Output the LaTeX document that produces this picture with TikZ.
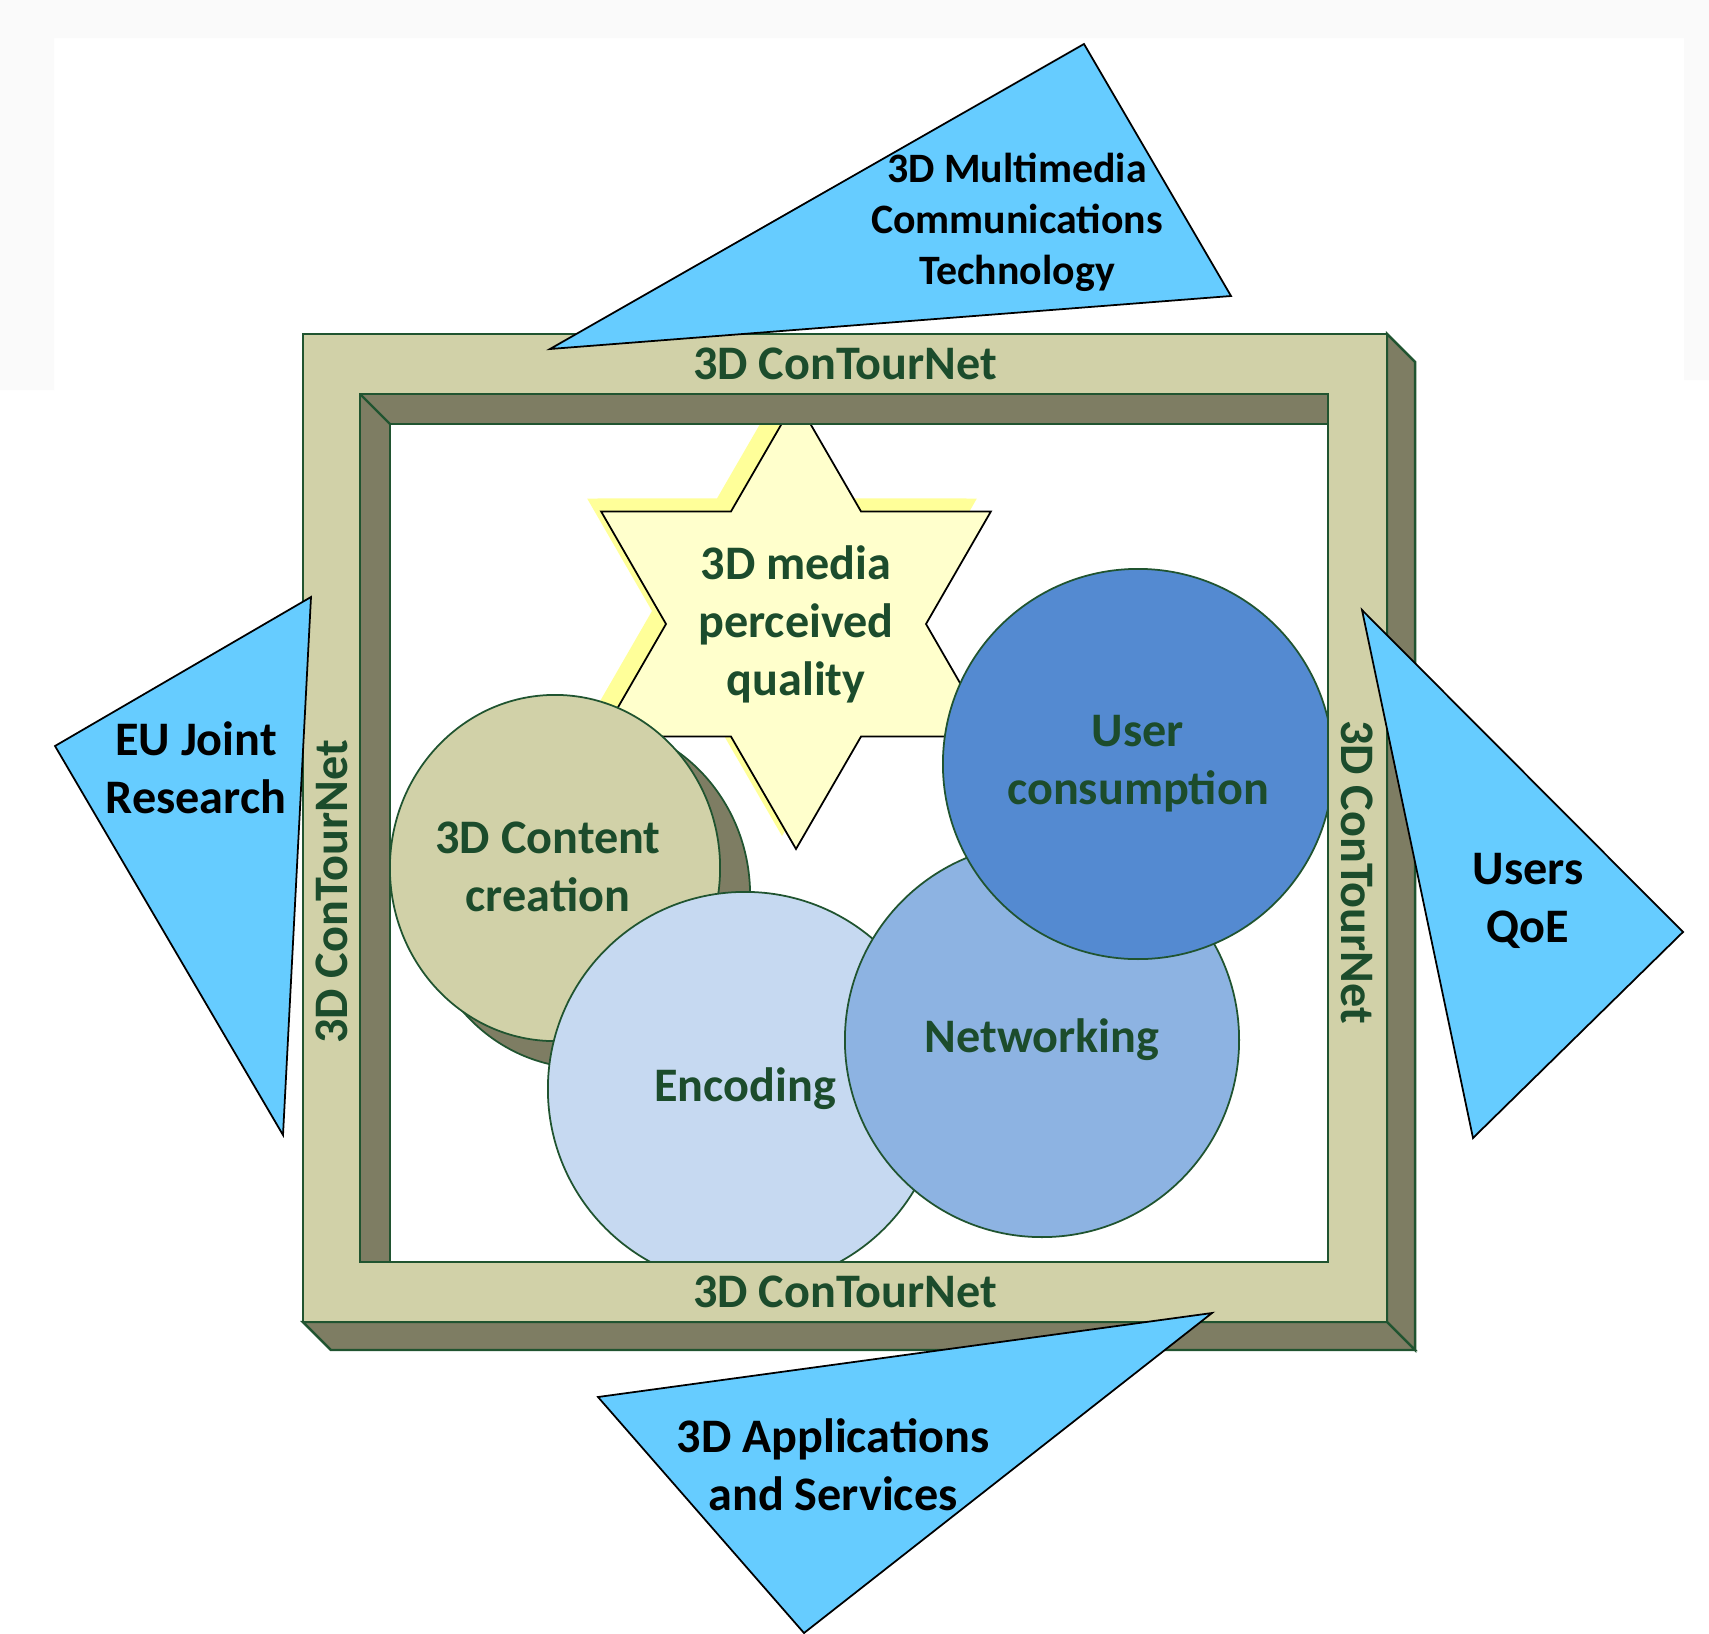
\documentclass[tikz,border=0pt]{standalone}
\usepackage{fontspec}
\setmainfont{Carlito}
\usepackage{tikz}
\usetikzlibrary{calc,positioning}
\usetikzlibrary{shapes}
\usepackage{xcolor}
\definecolor{beige}{RGB}{209,209,168}
\definecolor{darkside}{RGB}{126,125,99}
\definecolor{rim}{RGB}{32,84,48}
\definecolor{ink}{RGB}{28,76,44}
\definecolor{sky}{RGB}{102,204,255}
\definecolor{starfill}{RGB}{255,255,204}
\definecolor{starshade}{RGB}{255,255,153}
\definecolor{encblue}{RGB}{198,217,241}
\definecolor{netblue}{RGB}{141,179,226}
\definecolor{usrblue}{RGB}{84,138,209}

\begin{document}
\begin{tikzpicture}[x=0.01cm, y=-0.01cm,
    big/.style = {font=\fontsize{13.7}{16.5}\selectfont\bfseries, align=center},
    main/.style = {draw=rim, line width=0.5pt, inner sep=0pt, big, text=ink},
    frame/.style = {draw=rim, line width=0.7pt},
    tri/.style = {draw=black, line width=0.5pt, fill=sky}]
	\useasboundingbox (0,0) rectangle (1709,1633);
	\fill[white] (0,0) rectangle (1709,1633);
	\fill[black!2] (0,0) rectangle (1709,38) (0,38) rectangle (54,390) (1684,38) rectangle (1709,380);
	\coordinate (s) at (796,624);
	\fill[starshade, shift={($(s)+(-14,-13)$)}] (90:225) \foreach \a in {150,210,...,450} { -- (\a-30:130) -- (\a:225) } -- cycle;
	\draw[fill=starfill, draw=black, line width=0.5pt, shift={(s)}] (90:225) \foreach \a in {150,210,...,450} { -- (\a-30:130) -- (\a:225) } -- cycle;
	\node[big, text=ink] (media) at (s) {3D media\\perceived\\quality};
	\node[main, ellipse, fill=darkside, minimum width=3.3cm, minimum height=3.46cm] (cshade) at (585,895) {};
	\node[main, ellipse, fill=beige, minimum width=3.3cm, minimum height=3.46cm] (content) at (555,868) {};
	\node[big, text=ink] (ctext) at (548,867) {3D Content\\creation};
	\node[main, circle, fill=encblue, minimum size=3.94cm] (enc) at (745,1089) {Encoding};
	\node[main, circle, fill=netblue, minimum size=3.94cm] (net) at (1042,1040) {Networking};
	\node[main, circle, fill=usrblue, minimum size=3.9cm] (user) at (1138,764) {User\\consumption};
	\draw[frame, fill=darkside] (1387,334) -- (1415,362) -- (1415,1350) -- (1387,1322) -- cycle;
	\draw[frame, fill=darkside] (303,1322) -- (1387,1322) -- (1415,1350) -- (331,1350) -- cycle;
	\draw[frame, fill=beige, even odd rule] (303,334) rectangle (1387,1322) (360,394) rectangle (1328,1262);
	\draw[frame, fill=darkside] (360,394) -- (1328,394) -- (1328,424) -- (390,424) -- (390,1262) -- (360,1262) -- cycle;
	\draw[frame] (360,394) -- (390,424);
	\node[big, text=ink] (ltop) at (845,364) {3D ConTourNet};
	\node[big, text=ink] (lbot) at (845,1292) {3D ConTourNet};
	\node[big, text=ink, rotate=90] (lleft) at (332,892) {3D ConTourNet};
	\node[big, text=ink, rotate=-90] (lright) at (1357,872) {3D ConTourNet};
	\draw[tri] (550,349) -- (1084,44) -- (1231,296) -- cycle;
	\node[font=\fontsize{11.9}{14.5}\selectfont\bfseries, align=center] (tech) at (1017,222) {3D Multimedia\\Communications\\Technology};
	\draw[tri] (311,597) -- (55,746) -- (283,1135) -- cycle;
	\node[big] (eu) at (196,768) {EU Joint\\Research};
	\draw[tri] (1362,610) -- (1683,932) -- (1473,1138) -- cycle;
	\node[big] (qoe) at (1528,901) {Users\\QoE};
	\draw[tri] (598,1397) -- (1212,1313) -- (804,1633) -- cycle;
	\node[big] (apps) at (833,1465) {3D Applications\\and Services};
\end{tikzpicture}
\end{document}
